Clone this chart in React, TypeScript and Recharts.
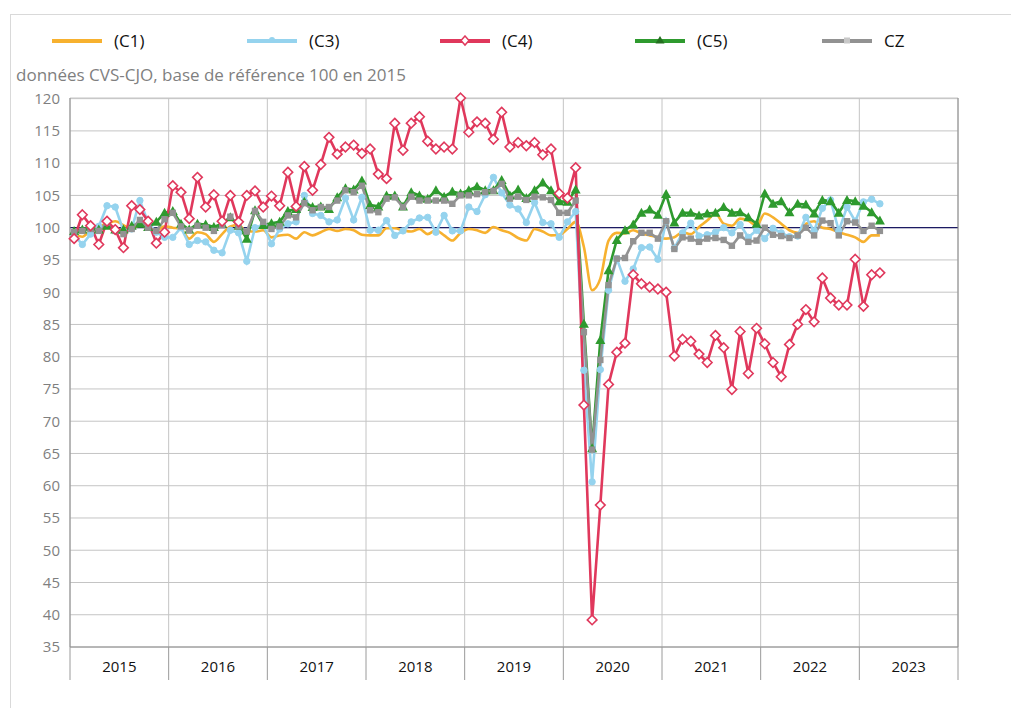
import React from "react";
import {
  LineChart,
  Line,
  XAxis,
  YAxis,
  CartesianGrid,
  ReferenceLine,
} from "recharts";

// ---------- DATA (monthly, Jan 2015 – Mar 2023) ----------
const startYear = 2015;
const yearLabels = ["2015", "2016", "2017", "2018", "2019", "2020", "2021", "2022", "2023"];
const yTicks = [35, 40, 45, 50, 55, 60, 65, 70, 75, 80, 85, 90, 95, 100, 105, 110, 115, 120];

const C1 = [
  99.0, 98.6, 99.6, 100.2, 100.6, 101.0, 100.4, 99.8, 100.4, 100.0, 99.6, 100.2,
  100.0, 99.8, 98.3, 99.3, 99.0, 97.8, 99.0, 100.2, 100.4, 99.4, 99.4, 99.6,
  98.5, 98.8, 98.9, 98.3, 99.3, 98.8, 99.3, 99.8, 99.5, 99.8, 99.6, 98.9,
  98.8, 98.8, 99.9, 99.9, 99.6, 99.4, 99.8, 99.0, 99.6, 98.8, 98.0, 99.2,
  99.8, 99.6, 99.2, 100.1, 99.6, 99.2, 98.4, 98.0, 99.8, 99.4, 98.8, 98.9,
  99.8, 100.9, 97.0, 90.3, 92.1, 98.0, 99.2, 99.1, 99.6, 99.1, 98.8, 98.5,
  98.3, 98.5, 99.3, 99.0, 100.1, 101.1, 102.2, 100.6, 100.3, 101.4, 101.1, 100.3,
  102.2, 101.6, 100.6, 99.6, 99.2, 100.6, 101.0, 100.0, 99.8, 99.3, 98.9, 98.5,
  97.8, 98.8, 98.8,
];

const C3 = [
  98.8, 97.4, 99.0, 100.2, 103.4, 103.2, 99.5, 99.8, 104.2, 100.8, 99.3, 98.5,
  98.5, 100.0, 97.4, 98.0, 97.8, 96.5, 96.1, 99.6, 99.2, 94.8, 100.0, 100.4,
  97.5, 99.8, 100.6, 100.9, 105.0, 102.2, 101.9, 100.9, 101.2, 104.6, 101.2, 104.7,
  99.6, 99.6, 101.1, 98.8, 99.5, 100.9, 101.5, 101.6, 99.3, 101.9, 99.5, 99.5,
  103.2, 102.5, 105.1, 107.8, 105.4, 103.5, 102.9, 100.8, 103.9, 100.8, 100.6, 98.5,
  100.9, 102.5, 77.9, 60.6, 78.0, 90.3, 95.2, 91.7, 93.6, 96.9, 97.0, 95.1,
  101.0, 96.8, 99.2, 100.7, 98.7, 98.9, 99.3, 100.0, 99.2, 100.5, 98.5, 99.6,
  98.3, 99.9, 99.2, 98.6, 98.7, 101.6, 99.5, 103.0, 104.3, 99.5, 103.2, 101.0,
  104.0, 104.4, 103.7,
];

const C4 = [
  98.3, 102.0, 100.3, 97.4, 101.0, 99.7, 96.9, 103.4, 102.8, 101.0, 97.6, 99.3,
  106.5, 105.5, 101.4, 107.8, 103.2, 105.1, 101.0, 105.0, 100.9, 105.0, 105.7, 103.2,
  104.9, 103.4, 108.6, 103.3, 109.5, 105.8, 109.8, 114.0, 111.4, 112.5, 112.8, 111.5,
  112.2, 108.3, 107.6, 116.2, 112.0, 116.2, 117.2, 113.4, 112.2, 112.5, 112.2, 120.1,
  114.8, 116.4, 116.2, 113.7, 117.9, 112.5, 113.2, 112.7, 113.2, 111.3, 112.2, 105.3,
  104.6, 109.3, 72.5, 39.2, 57.0, 75.7, 80.7, 82.1, 92.7, 91.3, 90.8, 90.5,
  90.0, 80.1, 82.7, 82.4, 80.4, 79.1, 83.3, 81.4, 74.9, 83.9, 77.4, 84.4,
  82.0, 79.1, 76.9, 81.9, 85.0, 87.3, 85.4, 92.2, 89.1, 88.0, 88.0, 95.1,
  87.8, 92.7, 93.0,
];

const C5 = [
  99.5, 99.7, 100.2, 99.7, 100.3, 99.7, 99.7, 100.3, 100.6, 100.1, 100.9, 102.3,
  102.6, 100.6, 99.7, 100.6, 100.5, 100.1, 100.6, 101.6, 100.3, 98.3, 102.7, 100.4,
  100.7, 100.9, 102.6, 102.9, 104.0, 103.2, 103.3, 102.9, 104.7, 106.1, 105.9, 107.3,
  103.5, 103.3, 105.0, 105.0, 103.3, 105.5, 105.0, 104.5, 105.8, 104.8, 105.6, 105.3,
  105.8, 106.4, 105.8, 105.8, 107.4, 105.0, 105.9, 104.6, 105.8, 107.0, 105.8, 104.1,
  104.0, 105.9, 85.1, 65.8, 82.6, 93.4, 98.1, 99.6, 100.5, 102.3, 102.8, 102.0,
  105.2, 100.8, 102.3, 102.3, 101.9, 102.2, 102.3, 103.2, 102.3, 102.4, 101.6, 100.6,
  105.3, 103.7, 104.1, 102.4, 103.7, 103.6, 102.2, 104.3, 104.1, 102.3, 104.3, 104.1,
  103.4, 102.4, 101.1,
];

const CZ = [
  99.3, 99.5, 99.8, 99.5, 100.8, 99.5, 99.0, 99.8, 101.2, 100.0, 99.5, 101.3,
  102.3, 100.2, 99.6, 100.3, 100.0, 99.5, 100.4, 101.7, 100.2, 99.4, 102.6, 100.9,
  99.8, 100.2, 101.9, 101.6, 103.8, 102.7, 103.2, 103.2, 104.2, 105.8, 105.5, 106.5,
  102.7, 102.4, 104.5, 104.7, 103.2, 104.8, 104.2, 104.2, 104.2, 104.2, 103.7, 105.0,
  105.0, 105.2, 105.5, 105.7, 106.8, 104.5, 104.8, 104.3, 104.8, 104.7, 104.3, 102.3,
  102.3, 104.2, 83.8, 65.6, 79.5, 91.1, 95.2, 95.3, 97.9, 99.2, 99.2, 98.3,
  101.0, 96.7, 98.5, 98.3, 97.8, 98.3, 98.4, 98.1, 97.2, 98.8, 97.8, 98.0,
  100.0, 98.9, 98.7, 98.4, 98.8, 100.0, 98.8, 101.1, 100.7, 98.8, 101.0, 100.8,
  99.5, 100.3, 99.5,
];

// ---------- STYLE ----------
const COL = {
  c1: "#F7B12F",
  c3: "#95D3EE",
  c4: "#E0385C",
  c5: "#2E9A2E",
  cz: "#929292",
};
const FONT = "'Open Sans', 'Noto Sans', sans-serif";

// time axis: month centres expressed as fractional years
const data = C1.map((_, i) => ({
  t: startYear + (i + 0.5) / 12,
  c1: C1[i],
  c3: C3[i],
  c4: C4[i],
  c5: C5[i],
  cz: CZ[i],
}));
const yearBounds = yearLabels.map((_, i) => startYear + i).concat(startYear + yearLabels.length);
const yearMids = yearLabels.map((_, i) => startYear + i + 0.5);
const xDomain = [startYear, startYear + yearLabels.length];

// ---------- MARKERS ----------
const Circle = (p: any) =>
  p.cx == null || p.value == null ? null : (
    <circle key={p.key ?? p.index} cx={p.cx} cy={p.cy} r={3.2} fill={COL.c3} stroke={COL.c3} />
  );
const Diamond = (p: any) => {
  if (p.cx == null || p.value == null) return null;
  const s = 4.8;
  return (
    <path
      key={p.key ?? p.index}
      d={`M${p.cx},${p.cy - s}L${p.cx + s},${p.cy}L${p.cx},${p.cy + s}L${p.cx - s},${p.cy}Z`}
      fill="#ffffff"
      stroke={COL.c4}
      strokeWidth={1.6}
    />
  );
};
const Triangle = (p: any) => {
  if (p.cx == null || p.value == null) return null;
  const s = 5;
  return (
    <path
      key={p.key ?? p.index}
      d={`M${p.cx},${p.cy - s}L${p.cx + s},${p.cy + s * 0.8}L${p.cx - s},${p.cy + s * 0.8}Z`}
      fill={COL.c5}
    />
  );
};
const Square = (p: any) => {
  if (p.cx == null || p.value == null) return null;
  const s = 3.2;
  return <rect key={p.key ?? p.index} x={p.cx - s} y={p.cy - s} width={2 * s} height={2 * s} fill={COL.cz} />;
};

// separator tick drawn downward from the axis line at each year boundary
const SeparatorTick = (p: any) => (
  <line x1={p.x} x2={p.x} y1={p.y} y2={p.y + 33} stroke="#9a9a9a" strokeWidth={1} />
);

const legendItems = [
  { label: "(C1)", color: COL.c1, marker: "none" },
  { label: "(C3)", color: COL.c3, marker: "circle" },
  { label: "(C4)", color: COL.c4, marker: "diamond" },
  { label: "(C5)", color: COL.c5, marker: "triangle" },
  { label: "CZ", color: COL.cz, marker: "square" },
];
const legendLeft = [44, 239, 432, 627, 814];

const LegendIcon = ({ color, marker }: { color: string; marker: string }) => (
  <svg width={50} height={12} style={{ display: "block" }}>
    <line x1={0} y1={6} x2={50} y2={6} stroke={color} strokeWidth={4} />
    {marker === "circle" && <circle cx={25} cy={5} r={3} fill={color} />}
    {marker === "diamond" && <path d="M25,1L29,5.5L25,10L21,5.5Z" fill="#fff" stroke={color} strokeWidth={1.5} />}
    {marker === "triangle" && <path d="M25,1L29.5,8.5L20.5,8.5Z" fill="#23701f" />}
    {marker === "square" && <rect x={22} y={2.5} width={6} height={6} fill="#c8c8c8" />}
  </svg>
);

export default function App() {
  return (
    <div style={{ position: "relative", width: 1003, height: 700, fontFamily: FONT }}>
      {/* frame */}
      <div
        style={{
          position: "absolute",
          left: 2,
          top: 6,
          width: 1020,
          height: 720,
          borderLeft: "1px solid #d9d9d9",
          borderTop: "1px solid #d9d9d9",
        }}
      />
      {/* legend */}
      {legendItems.map((it, i) => (
        <div
          key={it.label}
          style={{
            position: "absolute",
            left: legendLeft[i],
            top: 21,
            display: "flex",
            alignItems: "center",
            gap: 12,
            fontSize: 17,
            color: "#111",
            lineHeight: "24px",
          }}
        >
          <LegendIcon color={it.color} marker={it.marker} />
          <span>{it.label}</span>
        </div>
      ))}
      {/* subtitle */}
      <div
        style={{
          position: "absolute",
          left: 8,
          top: 55,
          fontSize: 17,
          color: "#7f7f7f",
          lineHeight: "24px",
          whiteSpace: "nowrap",
        }}
      >
        données CVS-CJO, base de référence 100 en 2015
      </div>
      <LineChart
        width={1003}
        height={700}
        data={data}
        margin={{ top: 90, right: 8, left: 8, bottom: 26 }}
        style={{ position: "absolute", left: 0, top: 0 }}
      >
        <CartesianGrid
          xAxisId="m"
          yAxisId="left"
          stroke="#c4c4c4"
          strokeWidth={1}
          verticalValues={yearBounds}
        />
        <XAxis
          xAxisId="m"
          dataKey="t"
          type="number"
          domain={xDomain}
          ticks={yearBounds}
          height={1}
          axisLine={{ stroke: "#8c8c8c" }}
          tickLine={false}
          tickSize={0}
          tickMargin={0}
          tick={SeparatorTick}
          interval={0}
        />
        <XAxis
          xAxisId="y"
          dataKey="t"
          type="number"
          domain={xDomain}
          ticks={yearMids}
          height={34}
          axisLine={false}
          tickLine={false}
          tickMargin={7}
          interval={0}
          tickFormatter={(v: number) => yearLabels[Math.floor(v) - startYear]}
          tick={{ fill: "#111", fontSize: 15, fontFamily: FONT }}
        />
        <YAxis
          yAxisId="left"
          width={54}
          domain={[35, 120]}
          ticks={yTicks}
          interval={0}
          axisLine={{ stroke: "#8c8c8c" }}
          tickLine={false}
          tickMargin={4}
          tick={{ fill: "#7f7f7f", fontSize: 15, fontFamily: FONT }}
        />
        <YAxis
          yAxisId="right"
          orientation="right"
          width={45}
          domain={[35, 120]}
          ticks={yTicks}
          interval={0}
          axisLine={{ stroke: "#8c8c8c" }}
          tickLine={false}
          tickMargin={2}
          tick={{ fill: "#7f7f7f", fontSize: 15, fontFamily: FONT, textAnchor: "start" }}
        />
        <ReferenceLine xAxisId="m" yAxisId="left" y={100} stroke="#1c1a63" strokeWidth={1.3} />
        <Line
          xAxisId="m"
          yAxisId="left"
          dataKey="c1"
          type="monotone"
          stroke={COL.c1}
          strokeWidth={2.6}
          dot={false}
          isAnimationActive={false}
        />
        <Line
          xAxisId="m"
          yAxisId="left"
          dataKey="c3"
          type="linear"
          stroke={COL.c3}
          strokeWidth={2.6}
          dot={Circle}
          isAnimationActive={false}
        />
        <Line
          xAxisId="m"
          yAxisId="left"
          dataKey="c5"
          type="linear"
          stroke={COL.c5}
          strokeWidth={2.6}
          dot={Triangle}
          isAnimationActive={false}
        />
        <Line
          xAxisId="m"
          yAxisId="left"
          dataKey="cz"
          type="linear"
          stroke={COL.cz}
          strokeWidth={2.6}
          dot={Square}
          isAnimationActive={false}
        />
        <Line
          xAxisId="m"
          yAxisId="left"
          dataKey="c4"
          type="linear"
          stroke={COL.c4}
          strokeWidth={2.6}
          dot={Diamond}
          isAnimationActive={false}
        />
      </LineChart>
    </div>
  );
}
